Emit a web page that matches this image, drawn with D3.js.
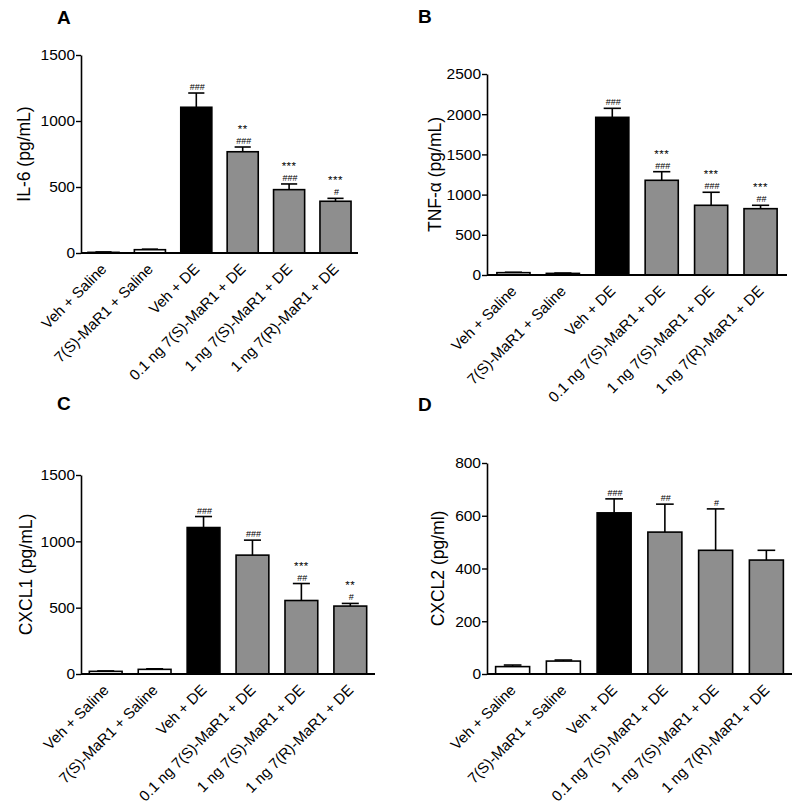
<!DOCTYPE html>
<html><head><meta charset="utf-8">
<script src="https://cdn.jsdelivr.net/npm/d3@7"></script>
<style>
body{margin:0;background:#fff;}
text{font-family:"Liberation Sans",Arial,sans-serif;fill:#000;}
</style></head>
<body>
<svg id="chart" width="800" height="809"></svg>
<script>
const categories = ["Veh + Saline","7(S)-MaR1 + Saline","Veh + DE","0.1 ng 7(S)-MaR1 + DE","1 ng 7(S)-MaR1 + DE","1 ng 7(R)-MaR1 + DE"];
const barFills = ["#ffffff","#ffffff","#000000","#8e8e8e","#8e8e8e","#8e8e8e"];

const il6Mean = [5, 25, 1104, 767, 480, 392];
const il6Err  = [3, 4, 108, 36, 43, 22];
const il6Stars = ["","","","**","***","***"];
const il6Hash  = ["","","###","###","###","#"];

const tnfMean = [29, 20, 1961, 1178, 867, 825];
const tnfErr  = [5, 4, 112, 107, 162, 42];
const tnfStars = ["","","","***","***","***"];
const tnfHash  = ["","","###","###","###","##"];

const cxcl1Mean = [20, 35, 1104, 896, 554, 512];
const cxcl1Err  = [3, 4, 83, 113, 128, 20];
const cxcl1Stars = ["","","","","***","**"];
const cxcl1Hash  = ["","","###","###","##","#"];

const cxcl2Mean = [28, 49, 611, 538, 469, 432];
const cxcl2Err  = [6, 4, 53, 106, 157, 37];
const cxcl2Stars = ["","","","","",""];
const cxcl2Hash  = ["","","###","##","#",""];

const il6Ticks = [0,500,1000,1500];
const tnfTicks = [0,500,1000,1500,2000,2500];
const cxcl1Ticks = [0,500,1000,1500];
const cxcl2Ticks = [0,200,400,600,800];

const panels = [
  {letter:"A", lx:57, ly:24, title:"IL-6 (pg/mL)", tx:30, mean:il6Mean, err:il6Err, stars:il6Stars, hash:il6Hash, ticks:il6Ticks,
   x0:81, x1:358, yTop:55, y0:253, po:0.15},
  {letter:"B", lx:418, ly:23, title:"TNF-α (pg/mL)", tx:441, mean:tnfMean, err:tnfErr, stars:tnfStars, hash:tnfHash, ticks:tnfTicks,
   x0:487, x1:787, yTop:74, y0:275, po:0.2},
  {letter:"C", lx:57, ly:410, title:"CXCL1 (pg/mL)", tx:32, mean:cxcl1Mean, err:cxcl1Err, stars:cxcl1Stars, hash:cxcl1Hash, ticks:cxcl1Ticks,
   x0:81, x1:375, yTop:475, y0:674, po:0.17},
  {letter:"D", lx:418, ly:411, title:"CXCL2 (pg/ml)", tx:444, mean:cxcl2Mean, err:cxcl2Err, stars:cxcl2Stars, hash:cxcl2Hash, ticks:cxcl2Ticks,
   x0:487, x1:792, yTop:463, y0:674, po:0.17}
];

const svg = d3.select("#chart");

panels.forEach(p => {
  const g = svg.append("g");
  const x = d3.scaleBand().domain(categories).range([p.x0, p.x1]).paddingInner(0.33).paddingOuter(p.po);
  const y = d3.scaleLinear().domain([0, d3.max(p.ticks)]).range([p.y0, p.yTop]);
  const bw = x.bandwidth();

  g.append("text").attr("x", p.lx).attr("y", p.ly).attr("font-size", 19).attr("font-weight", "bold").text(p.letter);

  g.append("text").attr("transform", `translate(${p.tx},${(p.y0 + p.yTop)/2}) rotate(-90)`)
    .attr("text-anchor","middle").attr("font-size", 17.5).text(p.title);

  const rows = categories.map((c,i) => ({c, m:p.mean[i], e:p.err[i], f:barFills[i], s:p.stars[i], h:p.hash[i]}));
  g.selectAll(".ev").data(rows).join("line")
    .attr("x1", d => x(d.c) + bw/2).attr("x2", d => x(d.c) + bw/2)
    .attr("y1", d => y(d.m)).attr("y2", d => y(d.m + d.e))
    .attr("stroke","#000").attr("stroke-width",1.6);
  g.selectAll(".ec").data(rows).join("line")
    .attr("x1", d => x(d.c) + bw/2 - bw*0.26).attr("x2", d => x(d.c) + bw/2 + bw*0.26)
    .attr("y1", d => y(d.m + d.e)).attr("y2", d => y(d.m + d.e))
    .attr("stroke","#000").attr("stroke-width",1.6);

  g.selectAll(".bar").data(rows).join("rect")
    .attr("x", d => x(d.c)).attr("width", bw)
    .attr("y", d => y(d.m)).attr("height", d => p.y0 - y(d.m))
    .attr("fill", d => d.f).attr("stroke","#000").attr("stroke-width",1.6);

  g.selectAll(".hash").data(rows.filter(d => d.h)).join("text")
    .attr("x", d => x(d.c) + bw/2 + 1).attr("y", d => y(d.m + d.e) - 3)
    .attr("text-anchor","middle").attr("font-size", 9).attr("fill","#333").text(d => d.h);
  g.selectAll(".star").data(rows.filter(d => d.s)).join("text")
    .attr("x", d => x(d.c) + bw/2).attr("y", d => y(d.m + d.e) - 14)
    .attr("text-anchor","middle").attr("font-size", 11.5).attr("letter-spacing", 0.5).text(d => d.s);

  const ya = g.append("g").attr("transform", `translate(${p.x0},0)`)
    .call(d3.axisLeft(y).tickValues(p.ticks).tickFormat(d3.format("d")).tickSize(5).tickPadding(1).tickSizeOuter(0));
  ya.select(".domain").attr("stroke-width",1.6);
  ya.selectAll(".tick line").attr("stroke-width",1.4);
  ya.selectAll(".tick text").attr("font-size",15.5).attr("font-family","Liberation Sans, Arial, sans-serif");

  const xa = g.append("g").attr("transform", `translate(0,${p.y0})`)
    .call(d3.axisBottom(x).tickSize(0).tickSizeOuter(0));
  xa.select(".domain").attr("stroke-width",2).attr("d", `M${p.x0},0H${p.x1}`);
  xa.selectAll(".tick text")
    .attr("font-size",15).attr("font-family","Liberation Sans, Arial, sans-serif")
    .attr("text-anchor","end").attr("x",0).attr("y",0).attr("dy",0)
    .attr("transform","translate(4,17) rotate(-45)");
});
</script>
</body></html>
